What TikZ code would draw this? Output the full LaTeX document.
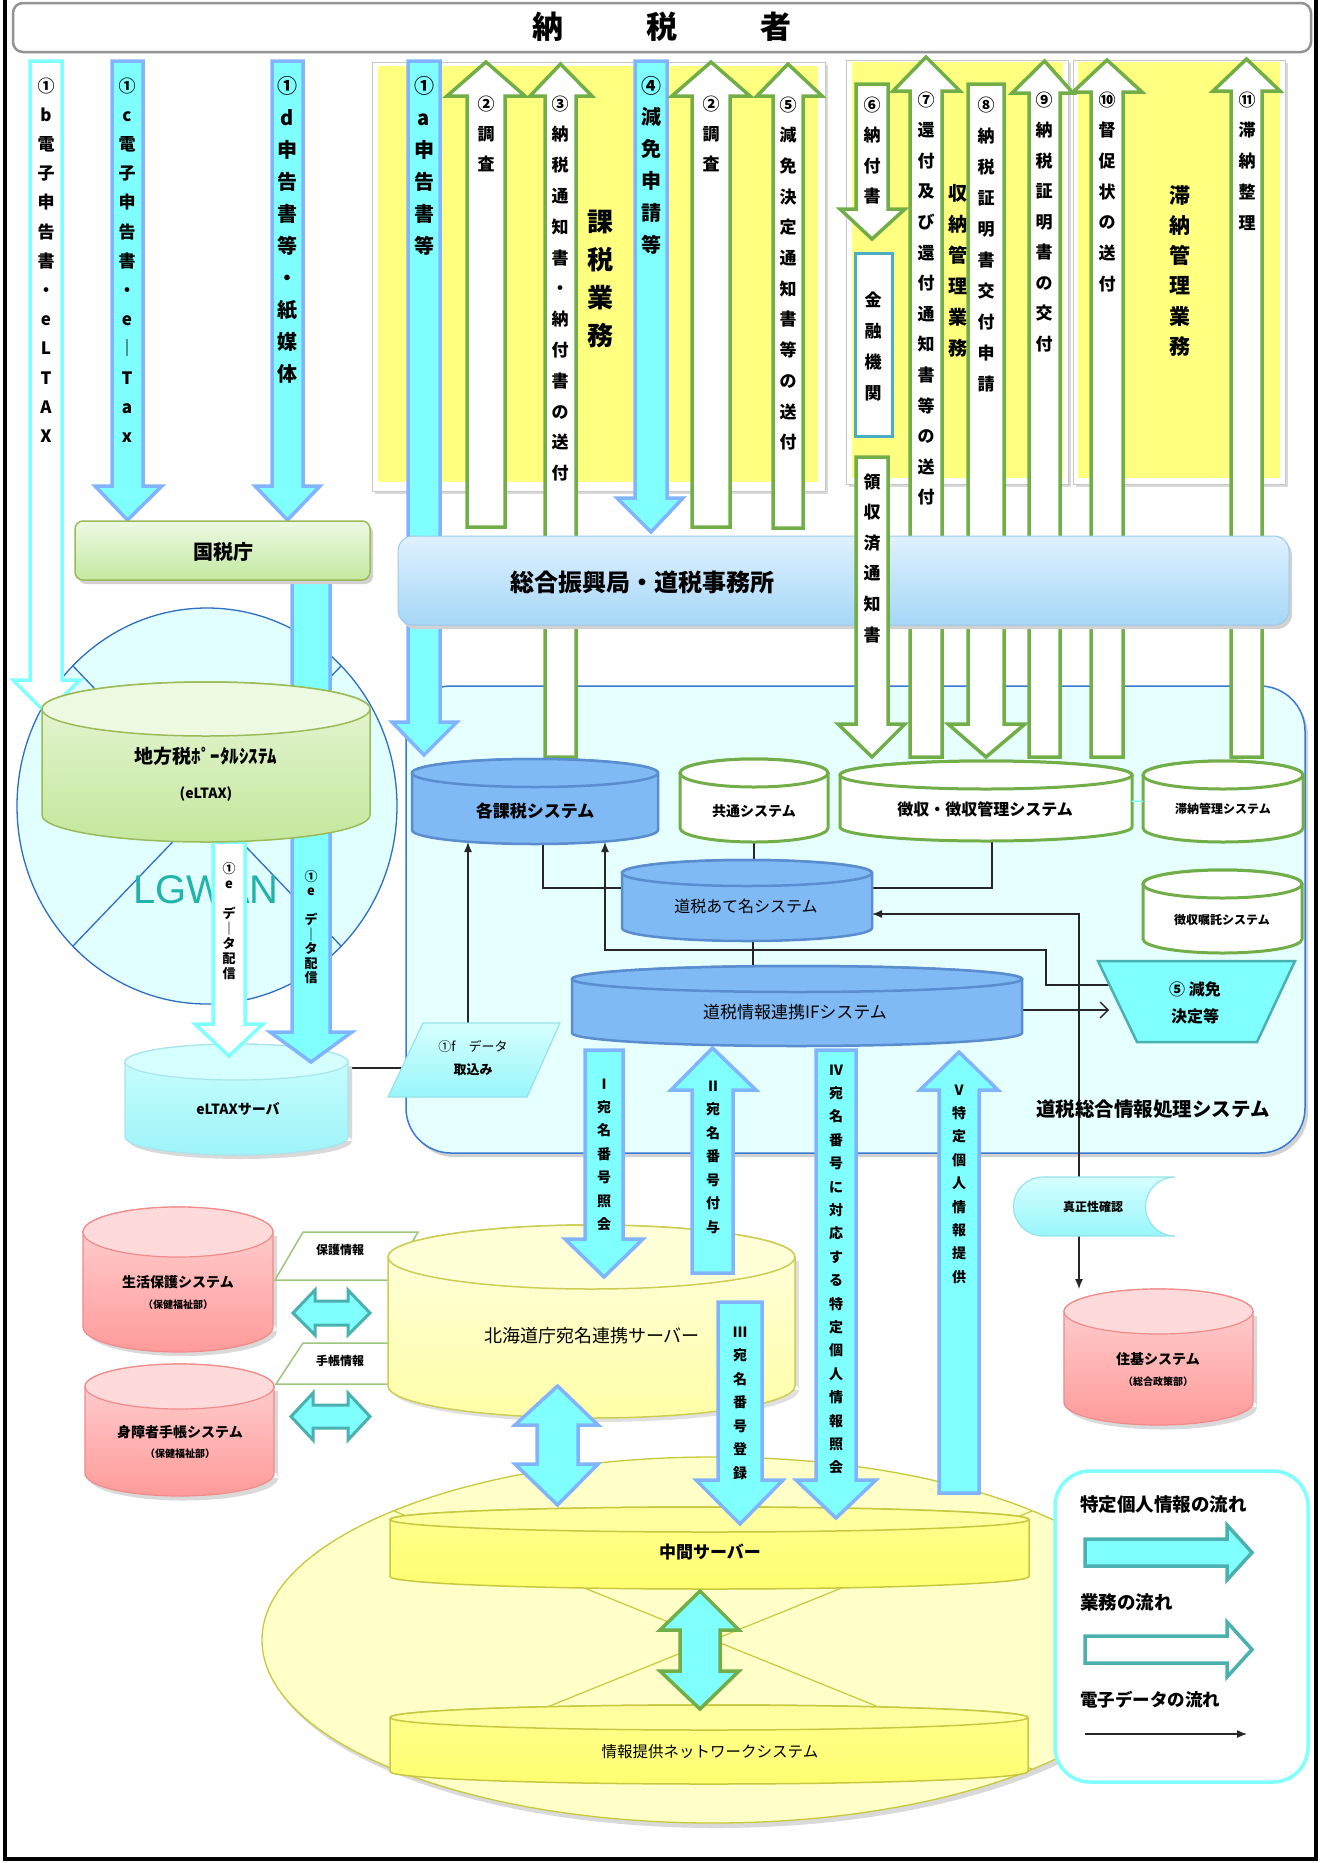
\documentclass[tikz,border=0pt]{standalone}
\usepackage{fontspec}
\setmainfont{Noto Sans CJK JP}
\newfontfamily\latf{Liberation Sans}
\usetikzlibrary{arrows.meta}
\definecolor{cyanf}{HTML}{80FFFF}
\definecolor{bluebd}{HTML}{80B4FF}
\definecolor{greenbd}{HTML}{72AE48}
\definecolor{yel}{HTML}{FFFF80}
\definecolor{tealbd}{HTML}{4BB0B0}
\definecolor{cylblue}{HTML}{80BAF5}
\definecolor{cylbluebd}{HTML}{5A8CD0}
\definecolor{rectfill}{HTML}{E6FFFF}
\definecolor{rectbd}{HTML}{3A78D2}
\definecolor{lgbd}{HTML}{2E6EBE}
\definecolor{lgfill}{HTML}{E2FFFF}
\definecolor{lgtxt}{HTML}{1FB3AA}
\definecolor{olivebd}{HTML}{C8C83C}
\definecolor{bigyel}{HTML}{FFFFC8}
\definecolor{kinbd}{HTML}{4BACC6}
\definecolor{pA}{HTML}{E8F6D8}\definecolor{pB}{HTML}{C4E79C}\definecolor{pC}{HTML}{9BBB59}\definecolor{pD}{HTML}{EEF9E2}
\definecolor{sA}{HTML}{CCFFFF}\definecolor{sB}{HTML}{9EF4F8}\definecolor{sC}{HTML}{A8E4EC}\definecolor{sD}{HTML}{D6FFFF}
\definecolor{kA}{HTML}{FFD4D4}\definecolor{kB}{HTML}{FF9A9A}\definecolor{kC}{HTML}{F28A8A}\definecolor{kD}{HTML}{FFDADA}
\definecolor{hA}{HTML}{FFFFE0}\definecolor{hB}{HTML}{FFFFA8}\definecolor{hC}{HTML}{CDCD55}\definecolor{hD}{HTML}{FFFFD8}
\definecolor{mA}{HTML}{FFFF90}\definecolor{mB}{HTML}{FFFF70}\definecolor{mC}{HTML}{C8C840}\definecolor{mD}{HTML}{FFFFA0}
\definecolor{gA}{HTML}{ECFAE4}\definecolor{gB}{HTML}{C4E8A0}
\definecolor{zA}{HTML}{DFF1FF}\definecolor{zB}{HTML}{A6D7F7}\definecolor{zC}{HTML}{9CC8EC}
\definecolor{cA}{HTML}{D6FFFF}\definecolor{cB}{HTML}{98F6FA}\definecolor{cC}{HTML}{96E2EA}

\newcommand\fs[1]{\fontsize{#1}{#1}\selectfont}
\def\vtstop{\relax vtstop}
\def\vtloop#1{\ifx#1\vtstop\else\hbox to 0pt{\hss#1\hss}\expandafter\vtloop\fi}
\newcommand\vt[2]{\vtop{\baselineskip=#1pt\relax\lineskiplimit=-100pt\lineskip=0pt\vtloop#2\vtstop}}

% vertical block arrow: style, xl, xr, y tail, head l, head r, y head base, y tip
\newcommand\varr[8]{\draw[#1] (#2,#4) -- (#2,#7) -- (#5,#7) -- ({(#2+#3)/2},#8) -- (#6,#7) -- (#3,#7) -- (#3,#4) -- cycle;}
% vertical double arrow: style, xl, xr, hl, hr, tip1, base1, base2, tip2
\newcommand\vdarr[9]{\draw[#1] ({(#2+#3)/2},#6) -- (#5,#7) -- (#3,#7) -- (#3,#8) -- (#5,#8) -- ({(#2+#3)/2},#9) -- (#4,#8) -- (#2,#8) -- (#2,#7) -- (#4,#7) -- cycle;}
% horizontal double arrow: style, ltip, lbase, rbase, rtip, shaft top, shaft bottom, head top, head bottom
\newcommand\hdarr[9]{\draw[#1] (#2,{(#6+#7)/2}) -- (#3,#8) -- (#3,#6) -- (#4,#6) -- (#4,#8) -- (#5,{(#6+#7)/2}) -- (#4,#9) -- (#4,#7) -- (#3,#7) -- (#3,#9) -- cycle;}
% horizontal arrow: style, x tail, x base, x tip, shaft top, shaft bottom, head top, head bottom
\newcommand\harr[8]{\draw[#1] (#2,#5) -- (#3,#5) -- (#3,#7) -- (#4,{(#5+#6)/2}) -- (#3,#8) -- (#3,#6) -- (#2,#6) -- cycle;}
% cylinders
\newcommand\cylshape[7]{%
 \path[#1] (#3,#5) -- (#3,#6) arc[start angle=180,end angle=0,x radius={(#4-#3)/2},y radius=#7] -- (#4,#5) arc[start angle=0,end angle=-180,x radius={(#4-#3)/2},y radius=#7] -- cycle;
 \path[#2] ({(#3+#4)/2},#5) ellipse[x radius={(#4-#3)/2},y radius=#7];}
\newcommand\cyldef[6]{%
 \expandafter\gdef\csname cylp@#1\endcsname##1##2{\cylshape{##1}{##2}{#2}{#3}{#4}{#5}{#6}}%
 \node[inner sep=0pt,outer sep=0pt,minimum width={(#3-#2)*1pt},minimum height={(#5-#4+2*#6)*1pt}] (#1) at ({(#2+#3)/2},{(#4+#5)/2}) {};}
\newcommand\cyldraw[3]{\csname cylp@#1\endcsname{#2}{#3}}

\begin{document}
\begin{tikzpicture}[x=1pt,y=-1pt,
 infoarr/.style={fill=cyanf, draw=bluebd, line width=3.5pt},
 bizarr/.style={fill=white, draw=greenbd, line width=3.5pt},
 outarr/.style={fill=white, draw=cyanf, line width=3.5pt},
 dblgreen/.style={fill=cyanf, draw=greenbd, line width=3.5pt},
 hdstyle/.style={fill=cyanf, draw=tealbd, line width=3pt},
 legarrA/.style={fill=cyanf, draw=tealbd, line width=3.5pt},
 legarrB/.style={fill=white, draw=tealbd, line width=3.5pt},
 eline/.style={draw=black!85, line width=1.3pt},
 etip/.style={-{Latex[length=10pt,width=8pt]}},
 vlab/.style={inner sep=0pt, anchor=base},
 txt/.style={inner sep=0pt},
 bluecyl/.style={fill=cylblue, draw=cylbluebd, line width=2.5pt},
 whitecyl/.style={fill=white, draw=greenbd, line width=3pt},
 portalbody/.style={top color=pA, bottom color=pB, draw=pC, line width=1.5pt},
 portaltop/.style={fill=pD, draw=pC, line width=1.5pt},
 serverbody/.style={top color=sA, bottom color=sB, draw=sC, line width=1.2pt},
 servertop/.style={fill=sD, draw=sC, line width=1.2pt},
 pinkbody/.style={top color=kA, bottom color=kB, draw=kC, line width=1.2pt},
 pinktop/.style={fill=kD, draw=kC, line width=1.2pt},
 hkbody/.style={top color=hA, bottom color=hB, draw=hC, line width=1.5pt},
 hktop/.style={fill=hD, draw=hC, line width=1.5pt},
 midbody/.style={top color=mA, bottom color=mB, draw=mC, line width=1.5pt},
 midtop/.style={fill=mD, draw=mC, line width=1.5pt}
]
\useasboundingbox (0,0) rectangle (1322,1863);
\fill[white] (0,0) rectangle (1322,1863);
\draw[line width=4pt] (5,-20) -- (5,1859) -- (1316,1859) -- (1316,-20);

% cylinder definitions (named nodes)
\cyldef{portal}{42}{370}{709}{815}{27}
\cyldef{server}{125}{348}{1062}{1137}{18}
\cyldef{kaz}{412}{658}{773}{830}{14}
\cyldef{kyo}{680}{828}{773}{828}{14}
\cyldef{cho}{840}{1132}{775}{827}{14}
\cyldef{tai}{1143}{1303}{775}{828}{14}
\cyldef{shoku}{1143}{1302}{884}{939}{14}
\cyldef{atena}{622}{872}{873}{928}{13}
\cyldef{ifs}{572}{1022}{979}{1033}{13}
\cyldef{jk}{1064}{1253}{1311.5}{1402.5}{22.5}
\cyldef{sei}{83}{273}{1232}{1327}{25}
\cyldef{shin}{85}{274}{1386.5}{1473.5}{22.5}
\cyldef{hk}{388}{795}{1257}{1386}{32}
\cyldef{mid}{390}{1029}{1519.5}{1576.5}{12.5}
\cyldef{net}{390}{1028}{1717.5}{1771.5}{12.5}
\coordinate (genA) at (1110,985);
\coordinate (genB) at (1109,1010);
\coordinate (f1L) at (402,1068);
\coordinate (f1T) at (468,1023);
\coordinate (jkc) at (1079,914);

% title
\draw[draw=gray!85, line width=2.5pt, fill=white, rounded corners=10pt] (13,3) rectangle (1311,52);
\node[txt, font=\fs{31}\bfseries] (ttl) at (662,27) {納\hspace{83pt}税\hspace{83pt}者};

% panels
\fill[gray!30] (375,65) rectangle (828,494);
\draw[gray!45, fill=white] (372,62) rectangle (825,491);
\fill[yel] (378,66) rectangle (818,482);
\fill[gray!30] (849,63) rectangle (1071,487);
\draw[gray!45, fill=white] (846,60) rectangle (1068,484);
\fill[yel] (852,62) rectangle (1063,478);
\fill[gray!30] (1076,63) rectangle (1288,487);
\draw[gray!45, fill=white] (1073,60) rectangle (1285,484);
\fill[yel] (1078,62) rectangle (1280,478);

% big rect
\fill[black!18, rounded corners=45pt] (409,690) rectangle (1308,1157);
\draw[fill=rectfill, draw=rectbd, line width=1.5pt, rounded corners=45pt] (406,686) rectangle (1305,1153);

% LGWAN
\draw[fill=lgfill, draw=lgbd, line width=1.3pt] (207,806) ellipse[x radius=190, y radius=198];
\draw[lgbd, line width=1.3pt] (73,666) -- (341,946) (341,666) -- (73,946);
\node[txt, font=\latf\fs{40}, text=lgtxt] (lgT) at (206,890) {LGWAN};

% big yellow ellipse
\fill[black!15] (716,1645) ellipse[x radius=451, y radius=183];
\draw[fill=bigyel, draw=olivebd, line width=1.3pt] (713,1640) ellipse[x radius=451, y radius=183];
\draw[olivebd, line width=1.2pt] (394,1511) -- (1032,1769) (1032,1511) -- (394,1769);

% electronic data lines
\draw[eline] ([xshift=8pt]kaz.south) -- (543,888) -- (992,888) -- ([xshift=6pt]cho.south);
\draw[eline] (kyo.south) -- (kyo.south |- atena.north);
\draw[eline] ([xshift=6pt]atena.south) -- ([xshift=6pt]atena.south |- ifs.north);
\draw[eline, etip] (genA) -- (1046,985) -- (1046,950) -- (605,950) -- ([xshift=70pt,yshift=2pt]kaz.south);
\draw[eline, -{Straight Barb[length=8pt,width=16pt]}] (ifs.east |- genB) -- (genB);
\draw[eline, {Latex[length=10pt,width=8pt]}-{Latex[length=10pt,width=8pt]}] ([yshift=-13.5pt]atena.east) -- (jkc) -- ([xshift=-79.5pt]jk.north);
\draw[eline] ([yshift=31.5pt]server.east) -- (f1L);
\draw[eline, etip] (f1T) -- ([yshift=2pt]f1T |- kaz.south);

% server cylinder
\fill[black!15] (129,1066) rectangle (352,1141) (240.5,1141) ellipse[x radius=111.5, y radius=18];
\cyldraw{server}{serverbody}{servertop}

% top arrows
\varr{outarr}{30}{62}{61}{13}{80}{680}{713}
\varr{infoarr}{112}{143}{61}{95}{162}{486}{520}
\varr{infoarr}{272}{303}{61}{255}{320}{486}{520}
\varr{infoarr}{408}{440}{61}{392}{457}{722}{755}
\varr{bizarr}{467}{505}{527}{447}{525}{96}{62}
\varr{bizarr}{545}{576}{757}{530}{592}{96}{64}
\varr{infoarr}{635}{667}{61}{617}{683}{498}{532}
\varr{bizarr}{692}{730}{527}{672}{750}{96}{62}
\varr{bizarr}{773}{803}{528}{757}{822}{96}{64}
\varr{bizarr}{856}{888}{84}{840}{905}{209}{239}
\varr{bizarr}{910}{942}{757}{893}{960}{91}{57}
\varr{bizarr}{968}{1004}{84}{948}{1025}{724}{757}
\varr{bizarr}{1029}{1060}{757}{1012}{1073}{93}{61}
\varr{bizarr}{1091}{1123}{757}{1073}{1142}{92}{60}
\varr{bizarr}{1231}{1262}{757}{1213}{1280}{91}{59}
\varr{infoarr}{292}{330}{580}{270}{352}{1032}{1062}
\varr{outarr}{213}{245}{842}{195}{263}{1024}{1056}

% boxes
\fill[black!18, rounded corners=8pt] (78,525) rectangle (373,584);
\draw[top color=gA, bottom color=gB, draw=pC, line width=1.5pt, rounded corners=8pt] (75,521) rectangle (370,580);
\fill[black!18, rounded corners=15pt] (401,540) rectangle (1292,629);
\draw[top color=zA, bottom color=zB, draw=zC, line width=1pt, rounded corners=15pt] (398,536) rectangle (1289,625);
\varr{bizarr}{856}{888}{457}{838}{905}{724}{757}
\draw[draw=kinbd, line width=3pt, fill=white] (855,253) rectangle (892,436);

% portal
\cyldraw{portal}{portalbody}{portaltop}

% inner cylinders
\cyldraw{kaz}{bluecyl}{bluecyl}
\cyldraw{kyo}{whitecyl}{whitecyl}
\cyldraw{cho}{whitecyl}{whitecyl}
\cyldraw{tai}{whitecyl}{whitecyl}
\cyldraw{shoku}{whitecyl}{whitecyl}
\cyldraw{atena}{bluecyl}{bluecyl}
\cyldraw{ifs}{bluecyl}{bluecyl}
\draw[cyanf, line width=1.5pt] (cho.east) -- (tai.west);

% trapezoid and parallelogram
\draw[fill=cyanf, draw=tealbd, line width=2.5pt] (1098,961) -- (1295,961) -- (1257,1042) -- (1137,1042) -- cycle;
\draw[top color=cA, bottom color=cB, draw=cC, line width=1.2pt] (423,1023) -- (560,1023) -- (527,1097) -- (388,1097) -- cycle;

% shinsei
\path[top color=cA, bottom color=cB, draw=cC, line width=1.2pt] (1043,1177) -- (1175,1177) arc[start angle=270,end angle=90,radius=29.5] -- (1043,1236) arc[start angle=90,end angle=270,radius=29.5] -- cycle;
\fill[black!15] (1068,1316) rectangle (1257,1407) (1162.5,1407) ellipse[x radius=94.5, y radius=22.5];
\cyldraw{jk}{pinkbody}{pinktop}
\fill[black!15] (87,1236) rectangle (277,1331) (182,1331) ellipse[x radius=95, y radius=25];
\cyldraw{sei}{pinkbody}{pinktop}
\fill[black!15] (89,1391) rectangle (278,1478) (183.5,1478) ellipse[x radius=94.5, y radius=22.5];
\cyldraw{shin}{pinkbody}{pinktop}
\draw[fill=white, draw=greenbd!70, line width=1.5pt] (303,1232) -- (418,1232) -- (390,1280) -- (275,1280) -- cycle;
\draw[fill=white, draw=greenbd!70, line width=1.5pt] (303,1343) -- (419,1343) -- (390,1384) -- (276,1384) -- cycle;
\hdarr{hdstyle}{293}{315}{348}{370}{1301}{1325}{1290}{1335}
\hdarr{hdstyle}{291}{313}{348}{370}{1405}{1428}{1393}{1440}

% lower cylinders
\fill[black!12] (392,1261) rectangle (799,1390) (595.5,1390) ellipse[x radius=203.5, y radius=32];
\cyldraw{hk}{hkbody}{hktop}
\cyldraw{mid}{midbody}{midtop}
\cyldraw{net}{midbody}{midtop}

% lower arrows
\varr{infoarr}{585}{623}{1050}{565}{643}{1239}{1277}
\varr{infoarr}{692}{733}{1273}{671}{756}{1090}{1048}
\varr{infoarr}{718}{762}{1302}{696}{783}{1480}{1524}
\varr{infoarr}{816}{856}{1050}{796}{876}{1480}{1518}
\varr{infoarr}{939}{979}{1493}{920}{998}{1090}{1052}
\vdarr{infoarr}{537}{578}{515}{598}{1386}{1425}{1464}{1505}
\vdarr{dblgreen}{680}{720}{660}{739}{1591}{1630}{1671}{1709}

% legend
\draw[draw=cyanf, line width=3.5pt, fill=white, rounded corners=35pt] (1055,1471) rectangle (1308,1782);
\harr{legarrA}{1085}{1227}{1252}{1539}{1566}{1525}{1580}
\harr{legarrB}{1085}{1227}{1252}{1636}{1663}{1622}{1677}
\coordinate (legL) at (1085,1734);
\coordinate (legR) at (1247,1734);
\draw[eline, etip] (legL) -- (legR);
\node[txt, anchor=west, font=\fs{18.5}\bfseries] (legT1) at (1080,1505) {特定個人情報の流れ};
\node[txt, anchor=west, font=\fs{18.5}\bfseries] (legT2) at (1080,1602) {業務の流れ};
\node[txt, anchor=west, font=\fs{17.5}\bfseries] (legT3) at (1080,1700) {電子データの流れ};

% vertical labels
\node[vlab, font=\fs{17}\bfseries] (Lb) at (46,92) {\vt{29.2}{①b電子申告書・eLTAX}};
\node[vlab, font=\fs{17}\bfseries] (Lc) at (127,92) {\vt{29.2}{①c電子申告書・e｜Tax}};
\node[vlab, font=\fs{20}\bfseries] (Ld) at (287,93) {\vt{32.1}{①d申告書等・紙媒体}};
\node[vlab, font=\fs{20}\bfseries] (La) at (424,93) {\vt{32}{①a申告書等}};
\node[vlab, font=\fs{17}\bfseries] (L2a) at (486,110) {\vt{30}{②調査}};
\node[vlab, font=\fs{17}\bfseries] (L3) at (560,110) {\vt{30.8}{③納税通知書・納付書の送付}};
\node[vlab, font=\fs{26}\bfseries] (Lkazei) at (600,231) {\vt{38.3}{課税業務}};
\node[vlab, font=\fs{20}\bfseries] (L4) at (651,93) {\vt{31.8}{④減免申請等}};
\node[vlab, font=\fs{17}\bfseries] (L2b) at (711,110) {\vt{30}{②調査}};
\node[vlab, font=\fs{17}\bfseries] (L5) at (788,111) {\vt{30.7}{⑤減免決定通知書等の送付}};
\node[vlab, font=\fs{17}\bfseries] (L6) at (872,111) {\vt{30.5}{⑥納付書}};
\node[vlab, font=\fs{17}\bfseries] (Lkin) at (873,306) {\vt{31}{金融機関}};
\node[vlab, font=\fs{17}\bfseries] (Lryo) at (872,488) {\vt{30.6}{領収済通知書}};
\node[vlab, font=\fs{17}\bfseries] (L7) at (926,106) {\vt{30.6}{⑦還付及び還付通知書等の送付}};
\node[vlab, font=\fs{17}\bfseries] (L8) at (986,111) {\vt{31}{⑧納税証明書交付申請}};
\node[vlab, font=\fs{19}\bfseries] (Lshu) at (958,200) {\vt{31}{収納管理業務}};
\node[vlab, font=\fs{17}\bfseries] (L9) at (1044,106) {\vt{30.5}{⑨納税証明書の交付}};
\node[vlab, font=\fs{17}\bfseries] (L10) at (1107,106) {\vt{30.7}{⑩督促状の送付}};
\node[vlab, font=\fs{21}\bfseries] (Ltai) at (1180,203) {\vt{30.3}{滞納管理業務}};
\node[vlab, font=\fs{17}\bfseries] (L11) at (1247,106) {\vt{30.8}{⑪滞納整理}};
\node[vlab, font=\fs{13}\bfseries] (Le1) at (229,873) {\vt{15}{①e~デ｜タ配信}};
\node[vlab, font=\fs{13}\bfseries] (Le2) at (311,881) {\vt{14.5}{①e~デ｜タ配信}};
\node[vlab, font=\fs{14}\bfseries] (LI) at (604,1089) {\vt{23.4}{Ⅰ宛名番号照会}};
\node[vlab, font=\fs{14}\bfseries] (LII) at (713,1091) {\vt{23.5}{Ⅱ宛名番号付与}};
\node[vlab, font=\fs{14}\bfseries] (LIII) at (740,1337) {\vt{23.5}{Ⅲ宛名番号登録}};
\node[vlab, font=\fs{14}\bfseries] (LIV) at (836,1075) {\vt{23.4}{Ⅳ宛名番号に対応する特定個人情報照会}};
\node[vlab, font=\fs{14}\bfseries] (LV) at (959,1095) {\vt{23.4}{Ⅴ特定個人情報提供}};

% horizontal labels
\node[txt, font=\fs{20}\bfseries] (kokuT) at (223,552) {国税庁};
\node[txt, font=\fs{24}\bfseries] (sogoT) at (642,582) {総合振興局・道税事務所};
\node[txt, font=\fs{19}\bfseries] (portT) at (206,756) {地方税ﾎﾟｰﾀﾙｼｽﾃﾑ};
\node[txt, font=\fs{14}\bfseries] (portT2) at (206,794) {(eLTAX)};
\node[txt, font=\fs{14}\bfseries] (servT) at (238,1109) {eLTAXサーバ};
\node[txt, font=\fs{13}] (f1T1) at (473,1047) {①f　データ};
\node[txt, font=\fs{13}\bfseries] (f1T2) at (473,1070) {取込み};
\node[txt, font=\fs{17}\bfseries] (kazT) at (535,811) {各課税システム};
\node[txt, font=\fs{14}\bfseries] (kyoT) at (754,811) {共通システム};
\node[txt, font=\fs{16}\bfseries] (choT) at (985,809) {徴収・徴収管理システム};
\node[txt, font=\fs{12}\bfseries] (taiT) at (1223,809) {滞納管理システム};
\node[txt, font=\fs{12}\bfseries] (shokuT) at (1222,920) {徴収嘱託システム};
\node[txt, font=\fs{16}] (atenaT) at (746,906) {道税あて名システム};
\node[txt, font=\fs{17}] (ifsT) at (795,1012) {道税情報連携IFシステム};
\node[txt, font=\fs{16}\bfseries] (genT1) at (1195,989) {⑤ 減免};
\node[txt, font=\fs{16}\bfseries] (genT2) at (1195,1016) {決定等};
\node[txt, font=\fs{19.5}\bfseries] (dosoT) at (1153,1109) {道税総合情報処理システム};
\node[txt, font=\fs{12}\bfseries] (shinseiT) at (1093,1207) {真正性確認};
\node[txt, font=\fs{14}\bfseries] (jkT1) at (1158,1359) {住基システム};
\node[txt, font=\fs{10}\bfseries] (jkT2) at (1158,1382) {（総合政策部）};
\node[txt, font=\fs{14}\bfseries] (seiT1) at (178,1282) {生活保護システム};
\node[txt, font=\fs{10}\bfseries] (seiT2) at (178,1305) {（保健福祉部）};
\node[txt, font=\fs{14}\bfseries] (sinT1) at (180,1432) {身障者手帳システム};
\node[txt, font=\fs{10}\bfseries] (sinT2) at (180,1454) {（保健福祉部）};
\node[txt, font=\fs{12}\bfseries] (hogoT) at (340,1250) {保護情報};
\node[txt, font=\fs{12}\bfseries] (techoT) at (340,1361) {手帳情報};
\node[txt, font=\fs{18}] (hkT) at (592,1336) {北海道庁宛名連携サーバー};
\node[txt, font=\fs{17}\bfseries] (midT) at (710,1552) {中間サーバー};
\node[txt, font=\fs{15.5}] (netT) at (710,1752) {情報提供ネットワークシステム};
\end{tikzpicture}
\end{document}
